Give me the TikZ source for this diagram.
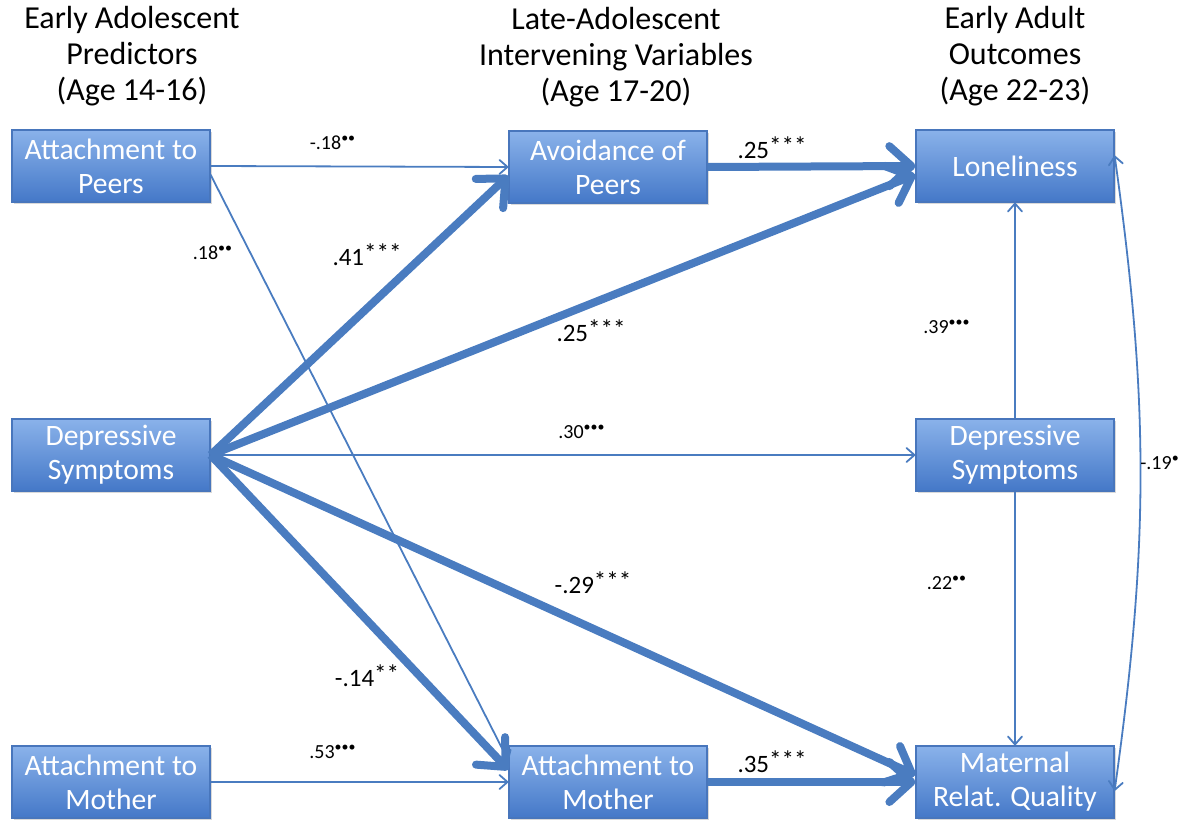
\documentclass[tikz,border=0pt]{standalone}
\usepackage{fontspec}
\setmainfont{Carlito}
\usetikzlibrary{arrows.meta,shadows}

\definecolor{boxtop}{RGB}{138,178,234}
\definecolor{boxbot}{RGB}{68,120,200}
\definecolor{boxedge}{RGB}{72,118,188}
\definecolor{pathblue}{RGB}{74,124,192}

\newcommand{\sigdot}[1]{\textsuperscript{#1}}
\newcommand{\sigstar}[1]{\raisebox{0.15em}{\fontsize{12.5}{12.5}\selectfont #1}}

\tikzset{
  varbox/.style={rectangle, draw=boxedge, line width=0.6pt,
    top color=boxtop, bottom color=boxbot, text=white,
    minimum width=99pt, minimum height=36pt, inner sep=0pt, align=center,
    font=\fontsize{14.8}{17}\selectfont,
    drop shadow={shadow xshift=1pt, shadow yshift=-1.2pt, opacity=0.3}},
  header/.style={align=center, font=\fontsize{16}{18}\selectfont},
  thinpath/.style={draw=pathblue, line width=0.9pt,
    -{Straight Barb[length=4pt,width=7pt,round]}},
  thickpath/.style={draw=pathblue, line width=4pt,
    -{Straight Barb[length=11pt,width=20pt,round]}},
  coef/.style={font=\fontsize{10}{11}\selectfont, inner sep=0pt},
  bigcoef/.style={font=\fontsize{12.5}{13}\selectfont, inner sep=0pt},
}

\begin{document}
\begin{tikzpicture}[x=0.5pt,y=-0.5pt]
        \useasboundingbox (0,0) rectangle (1192,823);

        % column headers
        \node[header] (hleft)  at ( 132, 56) {Early Adolescent\\Predictors\\(Age 14-16)};
        \node[header] (hmid)   at ( 616, 57) {Late-Adolescent\\Intervening Variables\\(Age 17-20)};
        \node[header] (hright) at (1015, 56) {Early Adult\\Outcomes\\(Age 22-23)};

        % variables
        \node[varbox] (peers)  at ( 111,166) {Attachment to\\Peers};
        \node[varbox] (depL)   at ( 111,455) {Depressive\\Symptoms};
        \node[varbox] (mothL)  at ( 111,782) {Attachment to\\Mother};
        \node[varbox] (avoid)  at ( 608,167) {Avoidance of\\Peers};
        \node[varbox] (mothM)  at ( 608,782) {Attachment to\\Mother};
        \node[varbox] (lonely) at (1015,166) {Loneliness};
        \node[varbox] (depR)   at (1015,455) {Depressive\\Symptoms};
        \node[varbox] (mater)  at (1015,782) {Maternal\\Relat. Quality};

        % paths
        \draw[thinpath]  (peers.east) to (avoid.west);
        \draw[thinpath]  (peers.355) to (mothM.168);
        \draw[thinpath]  (depL.east) to (depR.west);
        \draw[thinpath]  (mothL.east) to (mothM.west);
        \draw[thinpath]  (depR.north) to (lonely.south);
        \draw[thinpath]  (depR.south) to (mater.north);
        \draw[thinpath,{Straight Barb[length=4pt,width=7pt,round]}-{Straight Barb[length=4pt,width=7pt,round]}]
              (lonely.6) to[bend left=8] (mater.-5);

        \draw[thickpath] (depL.east) to (avoid.185);
        \draw[thickpath] (depL.east) to (lonely.185);
        \draw[thickpath] (depL.east) to (mothM.173);
        \draw[thickpath] (depL.east) to (mater.176);
        \draw[thickpath] (avoid.east) to (lonely.west);
        \draw[thickpath] (mothM.east) to (mater.west);

        % coefficients
        \node[coef]    (c1)  at ( 333,143) {-.18\sigdot{\textbullet\textbullet}};
        \node[coef]    (c2)  at ( 213,253) {.18\sigdot{\textbullet\textbullet}};
        \node[bigcoef] (c3)  at ( 367,255) {.41\sigstar{***}};
        \node[bigcoef] (c4)  at ( 772,148) {.25\sigstar{***}};
        \node[bigcoef] (c5)  at ( 591,331) {.25\sigstar{***}};
        \node[coef]    (c6)  at ( 582,432) {.30\sigdot{\textbullet\textbullet\textbullet}};
        \node[coef]    (c7)  at ( 947,327) {.39\sigdot{\textbullet\textbullet\textbullet}};
        \node[coef]    (c8)  at (1160,463) {-.19\sigdot{\textbullet}};
        \node[coef]    (c9)  at ( 947,583) {.22\sigdot{\textbullet\textbullet}};
        \node[bigcoef] (c10) at ( 593,583) {-.29\sigstar{***}};
        \node[bigcoef] (c11) at ( 367,676) {-.14\sigstar{**}};
        \node[coef]    (c12) at ( 333,752) {.53\sigdot{\textbullet\textbullet\textbullet}};
        \node[bigcoef] (c13) at ( 772,762) {.35\sigstar{***}};
\end{tikzpicture}
\end{document}
